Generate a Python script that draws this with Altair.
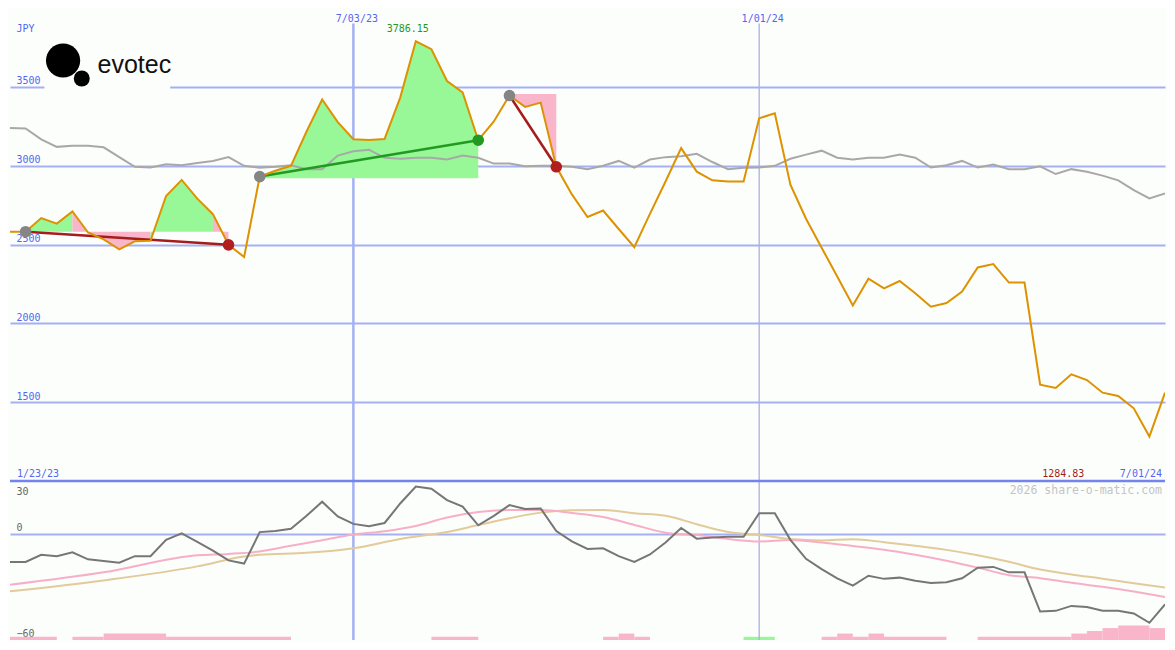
import altair as alt
import pandas as pd

# ---------------- data (weekly, Mondays) ----------------
dates = pd.date_range("2023-01-30", periods=75, freq="7D").strftime("%Y-%m-%d").tolist()

# evotec share price (JPY)
price = [2581, 2581, 2667, 2632, 2709, 2576, 2532, 2469, 2520, 2524,
         2807, 2909, 2790, 2692, 2498, 2421, 2930, 2967, 2998, 3215,
         3418, 3275, 3166, 3162, 3168, 3430, 3786.15, 3736, 3535, 3463,
         3160, 3279, 3443, 3371, 3398, 2992, 2817, 2674, 2715, 2598,
         2483, 2694, 2899, 3110, 2961, 2906, 2899, 2899, 3299, 3330,
         2878, 2663, 2480, 2297, 2114, 2284, 2222, 2269, 2192, 2106,
         2130, 2202, 2355, 2376, 2259, 2259, 1613, 1592, 1678, 1642,
         1562, 1541, 1463, 1284.83, 1562]

# grey comparison line (price panel)
bench = [3238, 3234, 3166, 3118, 3125, 3125, 3115, 3053, 2992, 2987,
         3008, 3002, 3016, 3029, 3053, 2998, 2986, 2992, 3002, 2977,
         2977, 3063, 3090, 3100, 3049, 3043, 3049, 3049, 3038, 3063,
         3049, 3012, 3012, 2995, 2998, 2998, 2992, 2977, 2998, 3029,
         2987, 3038, 3053, 3059, 3074, 3022, 2977, 2986, 2987, 2998,
         3043, 3069, 3094, 3049, 3038, 3049, 3049, 3069, 3049, 2987,
         3002, 3029, 2987, 3006, 2977, 2977, 2995, 2946, 2977, 2961,
         2936, 2906, 2844, 2792, 2823]

# oscillator (lower panel)
osc = [-16.1, -16.1, -12.0, -12.8, -10.6, -14.6, -15.6, -16.5, -12.8, -12.8,
       -3.5, 0.2, -4.6, -9.6, -15.2, -17.0, 0.9, 1.5, 2.8, 10.2,
       18.2, 9.8, 5.6, 4.3, 6.1, 17.2, 26.8, 25.6, 19.1, 15.4,
       4.8, 10.2, 16.3, 14.1, 14.4, 1.5, -4.4, -8.7, -8.3, -12.8,
       -16.1, -11.8, -5.0, 3.3, -2.8, -2.2, -1.7, -1.7, 11.7, 11.7,
       -3.5, -14.3, -20.2, -25.4, -29.6, -23.9, -25.7, -25.0, -26.8, -28.1,
       -27.6, -25.4, -19.4, -18.9, -22.0, -22.0, -44.3, -43.9, -41.1, -41.7,
       -43.9, -43.9, -45.4, -50.7, -40.2]

# slow averages (read at selected weeks; index into dates)
pink_idx = [0, 6, 12, 14, 16, 18, 20, 22, 24, 26, 28, 30, 32, 34, 36, 38, 40, 42,
            44, 46, 48, 50, 52, 54, 56, 58, 60, 62, 64, 66, 68, 70, 72, 74]
pink_val = [-29.1, -22.0, -12.3, -11.5, -10.1, -6.9, -3.7, -0.5, 1.4, 4.4, 9.2, 12.3,
            13.5, 13.5, 11.8, 9.5, 5.0, 0.6, -0.8, -3.0, -4.4, -3.6, -5.0, -7.0,
            -9.1, -12.0, -15.4, -19.3, -23.6, -25.3, -27.9, -30.2, -32.9, -36.1]
tan_idx = [0, 6, 12, 15, 16, 19, 22, 25, 28, 30, 32, 34, 36, 38, 40, 42, 44, 46,
           48, 50, 52, 54, 56, 58, 60, 62, 64, 66, 68, 70, 72, 74]
tan_val = [-32.8, -26.6, -18.6, -13.0, -12.0, -10.9, -8.3, -3.0, 1.0, 4.9, 8.8, 12.0,
           13.3, 13.5, 11.6, 10.2, 5.4, 1.0, -0.7, -3.0, -3.8, -3.2, -4.8, -6.8,
           -9.2, -12.3, -16.0, -20.4, -23.2, -25.6, -28.2, -30.6]

# signal bars at the bottom (index range, strength, kind)
bar_from = [0, 4, 6, 10, 27, 38, 39, 40, 47, 52, 53, 54, 55, 56, 62, 68, 69, 70, 71, 73]
bar_to = [3, 6, 10, 18, 30, 39, 40, 41, 49, 53, 54, 55, 56, 60, 68, 69, 70, 71, 73, 74]
bar_val = [1, 1, 2, 1, 1, 1, 2, 1, 1, 1, 2, 1, 2, 1, 1, 2, 2.8, 3.7, 4.5, 3.7]
bar_kind = ["sell"] * 8 + ["buy"] + ["sell"] * 11

# trend segments (index into dates) and their reference levels
seg_start = [1, 16, 32]
seg_end = [14, 30, 35]
seg_base = [2581, 2920, 3453]

# axis / label texts
price_ticks = [1500, 2000, 2500, 3000, 3500]
osc_ticks = [-60, 0, 30]
top_ticks = ["2023-07-03", "2024-01-01"]
corner_left = "1/23/23"
corner_right = "7/01/24"
credit = "2026 share-o-matic.com"
logo_text = "evotec"

# ---------------- styling ----------------
BG = "#fcfefc"
BLUE = "#5566ee"
GRID = "#a5b0f2"
SEP = "#7384ee"
ORANGE = "#dd9200"
BENCH = "#a8a8a8"
GREEN_FILL = "#98f898"
PINK_FILL = "#f9b5c9"
RED = "#a51c1c"
GREEN = "#229a22"
OSC = "#767676"
PINK_LINE = "#f7afc7"
TAN_LINE = "#e2cb9a"
MONO = "DejaVu Sans Mono"

# plot size kept inside the page body (1175 - 2*8 margin, minus stroke overhang)
W = 1155
H1 = 473
H2 = 159
fx = W / 1175
fy = (H1 + H2) / 650


def dt(s):
    t = pd.Timestamp(s)
    return alt.DateTime(year=t.year, month=t.month, date=t.day, utc=True)


X_SCALE = alt.Scale(type="utc", domain=[dt(dates[0]), dt(dates[-1])])
P_SCALE = alt.Scale(domain=[1003, 3997], nice=False, zero=False)
O_SCALE = alt.Scale(domain=[-60.5, 30], nice=False, zero=False)

# axes of the price panel (given identically to every layer so they merge)
Y_AXIS = alt.Axis(values=price_ticks, grid=True, gridColor=GRID, gridWidth=2,
                  domain=False, ticks=False, tickSize=0, labelAlign="left",
                  labelBaseline="alphabetic", labelPadding=-6, labelOffset=-3,
                  labelColor=BLUE, labelFont=MONO, labelFontSize=10, format="d",
                  title="JPY", titleAngle=0, titleAlign="left",
                  titleBaseline="alphabetic", titleX=6, titleY=24 * fy,
                  titleColor=BLUE, titleFont=MONO, titleFontSize=10,
                  titleFontWeight="normal")
X_AXIS = alt.Axis(orient="top", values=[dt(d) for d in top_ticks], grid=False,
                  domain=False, ticks=False, tickSize=0, labelPadding=-13,
                  labelBaseline="alphabetic", labelColor=BLUE, labelFont=MONO,
                  labelFontSize=10, labelOffset=3,
                  labelExpr="utcFormat(datum.value, '%-m/%d/%y')", title=None)


def TX(field="date"):
    return alt.X(f"{field}:T", scale=X_SCALE, axis=X_AXIS)


def TY(field):
    return alt.Y(f"{field}:Q", scale=P_SCALE, axis=Y_AXIS, stack=None)


def BX(field="date"):
    return alt.X(f"{field}:T", scale=X_SCALE, axis=None)


def OY(field):
    return alt.Y(f"{field}:Q", scale=O_SCALE, axis=None)


main = pd.DataFrame({"date": dates, "price": price, "bench": bench, "osc": osc})

fill_rows, trend_rows, dot_rows = [], [], []
grp = 0
for s, (a, b, base) in enumerate(zip(seg_start, seg_end, seg_base)):
    prev = None
    for j in range(a, b):
        side = "above" if price[j + 1] > base else "below"
        if side != prev:
            grp += 1
            fill_rows.append({"date": dates[j], "price": price[j], "base": base,
                              "grp": grp, "side": side})
        fill_rows.append({"date": dates[j + 1], "price": price[j + 1], "base": base,
                          "grp": grp, "side": side})
        prev = side
    direction = "up" if price[b] > price[a] else "down"
    trend_rows += [{"date": dates[a], "price": price[a], "seg": s, "dir": direction},
                   {"date": dates[b], "price": price[b], "seg": s, "dir": direction}]
    dot_rows += [{"date": dates[a], "price": price[a], "kind": "start"},
                 {"date": dates[b], "price": price[b], "kind": direction}]
fills = pd.DataFrame(fill_rows)
trends = pd.DataFrame(trend_rows)
dots = pd.DataFrame(dot_rows)

one = pd.DataFrame({"t": [logo_text]})

# ---------------- top (price) panel ----------------
logo_bg = alt.Chart(one).mark_rect(color=BG).encode(
    x=alt.value(35 * fx), x2=alt.value(163 * fx),
    y=alt.value(30 * fy), y2=alt.value(86 * fy))

vrule_df = pd.DataFrame({"date": top_ticks})
vrule_a = alt.Chart(vrule_df.iloc[[0]]).mark_rule(color=GRID, strokeWidth=2.5).encode(
    x=TX(), y=alt.value(16 * fy), y2=alt.value(H1))
vrule_b = alt.Chart(vrule_df.iloc[[1]]).mark_rule(color="#aab0e0", strokeWidth=1.3).encode(
    x=TX(), y=alt.value(16 * fy), y2=alt.value(H1))

area = alt.Chart(fills).mark_area(opacity=1, clip=True).encode(
    x=TX(), y=TY("price"), y2="base:Q",
    color=alt.Color("side:N", scale=alt.Scale(domain=["above", "below"],
                                              range=[GREEN_FILL, PINK_FILL]), legend=None),
    detail="grp:N")

bench_line = alt.Chart(main).mark_line(color=BENCH, strokeWidth=2, clip=True).encode(
    x=TX(), y=TY("bench"))

trend_line = alt.Chart(trends).mark_line(strokeWidth=2.5).encode(
    x=TX(), y=TY("price"),
    color=alt.Color("dir:N", scale=alt.Scale(domain=["up", "down"], range=[GREEN, RED]),
                    legend=None),
    detail="seg:N")

price_line = alt.Chart(main).mark_line(color=ORANGE, strokeWidth=2, clip=True).encode(
    x=TX(), y=TY("price"))

dot_layer = alt.Chart(dots).mark_circle(size=135, opacity=1).encode(
    x=TX(), y=TY("price"),
    color=alt.Color("kind:N", scale=alt.Scale(domain=["start", "up", "down"],
                                              range=["#858585", GREEN, "#b01e1e"]),
                    legend=None))

logo_big = alt.Chart(one).mark_circle(color="black", opacity=1, size=1170).encode(
    x=alt.value(54 * fx), y=alt.value(54 * fy))
logo_small = alt.Chart(one).mark_circle(color="black", opacity=1, size=255).encode(
    x=alt.value(73 * fx), y=alt.value(72.5 * fy))
logo_word = alt.Chart(one).mark_text(font="Liberation Sans", fontSize=25, color="#111111",
                                     align="left", baseline="alphabetic").encode(
    x=alt.value(89 * fx), y=alt.value(66.5 * fy), text="t:N")

imax = max(range(len(price)), key=lambda i: price[i])
imin = min(range(len(price)), key=lambda i: price[i])
max_df = pd.DataFrame({"date": [dates[imax]], "label": [f"{price[imax]:.2f}"]})
min_df = pd.DataFrame({"date": [dates[-1]], "label": [f"{price[imin]:.2f}"]})
max_text = alt.Chart(max_df).mark_text(font=MONO, fontSize=10, color=GREEN,
                                       baseline="alphabetic", dx=-8).encode(
    x=TX(), y=alt.value(25 * fy), text="label:N")
min_text = alt.Chart(min_df).mark_text(font=MONO, fontSize=10, color=RED, align="right",
                                       baseline="alphabetic", dx=-82 * fx).encode(
    x=TX(), y=alt.value(482.5 * fy), text="label:N")
left_df = pd.DataFrame({"date": [dates[0]], "label": [corner_left]})
right_df = pd.DataFrame({"date": [dates[-1]], "label": [corner_right]})
left_text = alt.Chart(left_df).mark_text(font=MONO, fontSize=10, color=BLUE, align="left",
                                         baseline="alphabetic", dx=7).encode(
    x=TX(), y=alt.value(482.5 * fy), text="label:N")
right_text = alt.Chart(right_df).mark_text(font=MONO, fontSize=10, color=BLUE, align="right",
                                           baseline="alphabetic", dx=-3).encode(
    x=TX(), y=alt.value(482.5 * fy), text="label:N")

top = alt.layer(logo_bg, vrule_a, vrule_b, area, bench_line, trend_line, price_line,
                dot_layer, logo_big, logo_small, logo_word, max_text, min_text,
                left_text, right_text).properties(width=W, height=H1).resolve_scale(
    color="independent")

# ---------------- bottom (oscillator) panel ----------------
o_axis = alt.Axis(values=osc_ticks, grid=True,
                  gridColor={"condition": {"test": "datum.value === 0", "value": GRID},
                             "value": "transparent"},
                  gridWidth=2, domain=False, ticks=False, tickSize=0, labelAlign="left",
                  labelBaseline="alphabetic", labelPadding=-6,
                  labelOffset={"condition": {"test": "datum.value === 30", "value": 13},
                               "value": -3},
                  labelColor="#666666", labelFont=MONO, labelFontSize=10, title=None)

bars = pd.DataFrame({"start": [dates[i] for i in bar_from], "end": [dates[i] for i in bar_to],
                     "lvl": bar_val, "kind": bar_kind})
bar_layer = alt.Chart(bars).mark_rect(clip=True).encode(
    x=BX("start"), x2="end:T",
    y=alt.Y("lvl:Q", scale=alt.Scale(domain=[0, 49.4], nice=False, zero=False), axis=None),
    y2=alt.datum(0),
    color=alt.Color("kind:N", scale=alt.Scale(domain=["sell", "buy"],
                                              range=[PINK_FILL, GREEN_FILL]), legend=None))

b_rule_a = alt.Chart(vrule_df.iloc[[0]]).mark_rule(color=GRID, strokeWidth=2.5).encode(x=BX())
b_rule_b = alt.Chart(vrule_df.iloc[[1]]).mark_rule(color="#aab0e0", strokeWidth=1.3).encode(x=BX())

pink_df = pd.DataFrame({"date": [dates[i] for i in pink_idx], "v": pink_val})
tan_df = pd.DataFrame({"date": [dates[i] for i in tan_idx], "v": tan_val})
tan_line = alt.Chart(tan_df).mark_line(color=TAN_LINE, strokeWidth=2, clip=True,
                                       interpolate="monotone").encode(x=BX(), y=OY("v"))
pink_line = alt.Chart(pink_df).mark_line(color=PINK_LINE, strokeWidth=2, clip=True,
                                         interpolate="monotone").encode(x=BX(), y=OY("v"))
osc_line = alt.Chart(main).mark_line(color=OSC, strokeWidth=2, clip=True).encode(
    x=BX(), y=alt.Y("osc:Q", scale=O_SCALE, axis=o_axis))

sep = alt.Chart(one).mark_rule(color=SEP, strokeWidth=2.7).encode(
    y=alt.YDatum(30, scale=O_SCALE, axis=None))

credit_df = pd.DataFrame({"date": [dates[-1]], "label": [credit]})
credit_text = alt.Chart(credit_df).mark_text(font=MONO, fontSize=11.5, color="#c4c4c4",
                                             align="right", baseline="alphabetic",
                                             dx=-3, dy=13).encode(
    x=BX(), y=alt.YDatum(30, scale=O_SCALE, axis=None), text="label:N")

bottom = alt.layer(bar_layer, b_rule_a, b_rule_b, tan_line, pink_line, osc_line, sep,
                   credit_text).properties(width=W, height=H2).resolve_scale(
    y="independent", color="independent")

chart = alt.vconcat(top, bottom, spacing=0, bounds="flush").properties(
    background=BG, padding=0).configure_view(strokeWidth=0)

chart.save("out.html", embed_options={"renderer": "svg", "actions": False})
